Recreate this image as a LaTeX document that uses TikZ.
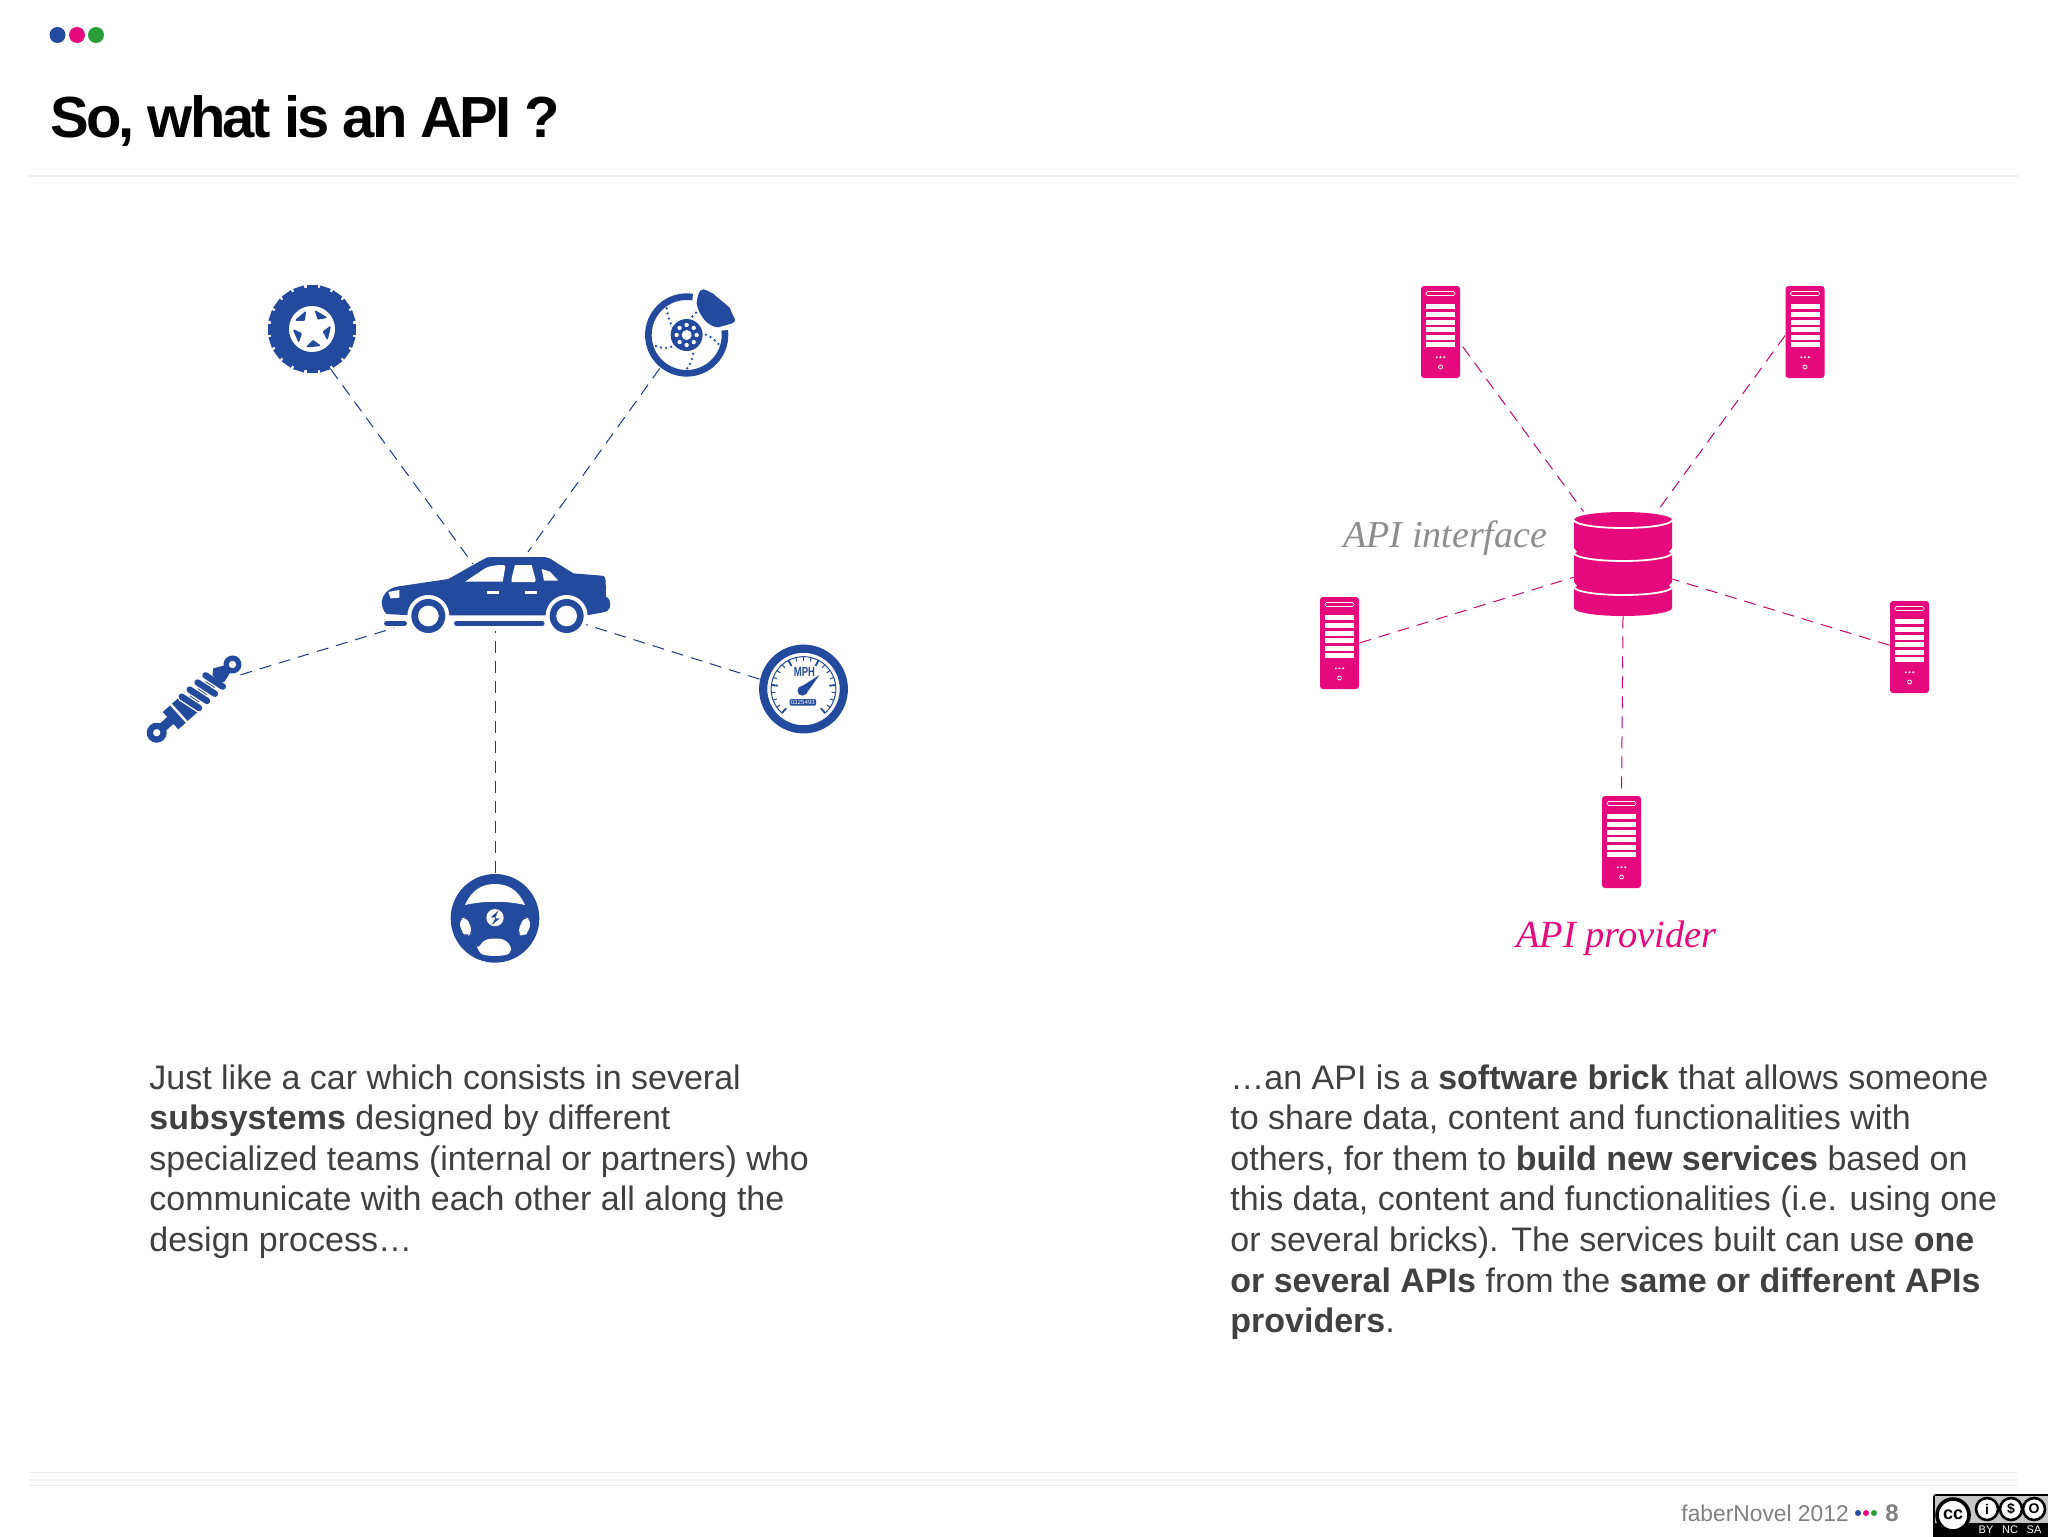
\documentclass[tikz,border=0pt]{standalone}
\usepackage{fontspec}
\setmainfont{Liberation Sans}
\newfontfamily\labelfont{Liberation Serif}
\newfontfamily\titlefont[LetterSpace=-5.1]{Liberation Sans}
\usetikzlibrary{calc}
\definecolor{carblue}{HTML}{234A9C}
\definecolor{apipink}{HTML}{E6097D}
\definecolor{dotgreen}{HTML}{2A9D3A}
\definecolor{bodygray}{HTML}{404040}
\definecolor{softgray}{HTML}{808080}
\definecolor{rulegray}{HTML}{EDEDED}
\tikzset{
  spot/.style={circle, inner sep=0pt},
  carlink/.style={draw=carblue!80!black, line width=0.5pt, dash pattern=on 6pt off 4pt},
  apilink/.style={draw=apipink!85!black, line width=0.5pt, dash pattern=on 6pt off 4pt},
  bodytext/.style={anchor=north west, inner sep=0pt, align=left, text=bodygray,
    font=\fontsize{17}{20.3}\selectfont},
  serverbox/.style={rectangle, fill=apipink, rounded corners=1.5pt, minimum width=19.5pt, minimum height=46pt, inner sep=0pt},
  serverface/.pic={
    \draw[white, line width=0.3pt, rounded corners=0.8pt] (-14.5,-40.5) rectangle (14.5,-36.5);
    \foreach \y in {-27.7,-20,-12.3,-4.7,2.7,10}
      \fill[white] (-14.5,\y) rectangle (14.5,\y+4.8);
    \foreach \x in {-3.7,0,3.7}
      \fill[white] (\x,25.3) circle (1.1);
    \draw[white, line width=0.4pt] (0,35) circle (2);
  },
  ccring/.style={circle, draw=black, line width=1.3pt, fill=white, inner sep=0pt, text=black}
}
\begin{document}
\begin{tikzpicture}[x=0.5pt,y=-0.5pt]
\useasboundingbox (0,0) rectangle (2048,1536);
\fill[white] (0,0) rectangle (2048,1536);
% Header
\fill[carblue] (57.5,35) circle (8);
\fill[apipink] (77,35) circle (8);
\fill[dotgreen] (96,35) circle (8);
\node (title) at (50,137) [anchor=base west, inner sep=0pt, font=\titlefont\fontsize{29}{30}\selectfont\bfseries] {So, what is an API ?};
\draw[rulegray, line width=0.6pt] (29,176) -- (2018,176);

% Car and its subsystems
\node (tire) at (312,329) [spot, minimum size=44pt] {};
\node (brake) at (687,336) [spot, minimum size=42pt] {};
\node (shock) at (195,700) [spot, minimum size=51.5pt] {};
\node (gauge) at (803,690) [spot, minimum size=44.5pt] {};
\node (wheel) at (495,918) [spot, minimum size=45pt] {};
\coordinate (carA) at (473,564);
\coordinate (carB) at (528,552);
\coordinate (carC) at (394,628);
\coordinate (carD) at (584,624);
\coordinate (carE) at (495,631);
\draw[carlink] (tire.-65) -- (carA);
\draw[carlink] (brake.-130) -- (carB);
\draw[carlink] (shock.29) -- (carC);
\draw[carlink] (gauge.166) -- (carD);
\draw[carlink] (wheel.north) -- (carE);

% Car
\begin{scope}[shift={(360,530)},scale=0.3333]
\fill[carblue] (65,215) .. controls (68,195) and (80,178) .. (110,170) -- (265,147)
  -- (370,88) .. controls (378,82) and (385,81) .. (395,81) -- (545,81)
  .. controls (560,81) and (570,84) .. (580,92) -- (640,130) -- (725,137)
  .. controls (735,138) and (737,145) .. (737,152) -- (738,200)
  .. controls (748,204) and (752,215) .. (750,232) .. controls (748,240) and (740,245) .. (730,247)
  -- (680,256) -- (150,256) -- (80,252) .. controls (70,245) and (66,230) .. (65,215) -- cycle;
\fill[white] (205,258) circle (63);
\fill[white] (620,258) circle (63);
\fill[white] (255,258) rectangle (570,270);
\foreach \x in {205,620} {
  \fill[carblue] (\x,258) circle (51);
  \fill[white] (\x,258) circle (31);
}
\fill[white] (315,155) -- (375,115) .. controls (390,107) and (410,105) .. (432,105) -- (436,110) -- (428,155) -- cycle;
\fill[white] (465,105) -- (515,105) -- (527,150) -- (524,156) -- (455,156) -- (455,145) -- cycle;
\fill[white] (545,117) -- (570,125) -- (595,152) -- (552,152) -- cycle;
\fill[white] (382,182) rectangle (418,191);
\fill[white] (494,182) rectangle (530,191);
\fill[white] (85,186) -- (118,180) -- (118,203) -- (92,205) -- cycle;
\draw[carblue, line width=2.6pt, line cap=round] (80,280) -- (133,280);
\draw[carblue, line width=2.6pt, line cap=round] (290,280) -- (546,280);
\end{scope}

% Tire
\begin{scope}[shift={(312,329)}]
\fill[carblue] (0,0) circle (41.5);
\foreach \a in {0,18,...,342}
  \fill[carblue, rotate=\a] (38,-5.5) rectangle (44,5.5);
\fill[white] (0,0) circle (23);
\foreach \a in {-59,-131,-203,-275,-347}
  \fill[carblue, line join=round, draw=carblue, line width=0.8pt] (\a-19:18) -- (\a+19:18) -- (\a:12) -- cycle;
\end{scope}

% Brake disc
\begin{scope}[shift={(630,270)},scale=0.3333]
\draw[carblue, line width=3.3pt] ($(170,195)+(-7:115)$) arc[start angle=-7, end angle=279, x radius=115, y radius=115];
\fill[carblue] (170,195) circle (48);
\fill[white] (170,195) circle (15);
\foreach \a in {0,45,...,315}
  \fill[white] ($(170,195)+(\a:30)$) circle (6.5);
\draw[carblue, line width=1.3pt, line cap=round, dash pattern=on 0pt off 2.6pt] (110,115) .. controls (115,145) and (120,160) .. (132,178);
\draw[carblue, line width=1.3pt, line cap=round, dash pattern=on 0pt off 2.6pt] (78,228) .. controls (100,238) and (120,235) .. (136,224);
\draw[carblue, line width=1.3pt, line cap=round, dash pattern=on 0pt off 2.6pt] (172,295) .. controls (185,275) and (190,260) .. (190,240);
\draw[carblue, line width=1.3pt, line cap=round, dash pattern=on 0pt off 2.6pt] (265,222) .. controls (250,205) and (235,195) .. (218,190);
\draw[carblue, line width=1.3pt, line cap=round, dash pattern=on 0pt off 2.6pt] (198,128) -- (185,142);
\fill[carblue] (200,100) .. controls (202,80) and (206,58) .. (220,58) .. controls (232,58) and (235,66) .. (248,70)
  -- (298,112) .. controls (306,125) and (305,135) .. (312,142) .. controls (320,152) and (312,160) .. (300,162)
  -- (265,172) .. controls (235,172) and (205,135) .. (200,100) -- cycle;
\end{scope}

% Shock absorber
\begin{scope}[shift={(156.7,732.7)},rotate=42,scale=0.3333]
\fill[carblue] (-2,-14) rectangle (70,14);
\fill[carblue] (55,-34) rectangle (142,36);
\fill[carblue] (142,-16) rectangle (262,16);
\fill[white] (85,-36) rectangle (92,38);
\foreach \x in {128,160,192,224} {
  \draw[white, line width=4.6pt, line cap=round] (\x,-30) -- (\x+16,30);
  \draw[carblue, line width=3.2pt, line cap=round] (\x,-30) -- (\x+16,30);
}
\fill[carblue] (240,-16) -- (255,-30) -- (290,-12) -- (290,12) -- (255,22) -- (240,16) -- cycle;
\fill[carblue] (0,0) circle (30);
\fill[white] (0,0) circle (11);
\fill[carblue] (306,0) circle (27);
\fill[white] (306,0) circle (11);
\end{scope}

% Speed gauge
\begin{scope}[shift={(803.5,689)},scale=0.3333]
\draw[carblue, line width=4.1pt] (0,0) circle (121);
\foreach \i in {0,...,20} {
  \pgfmathsetmacro{\b}{132+\i*13.8}
  \draw[carblue, line width=0.5pt] (\b:97) -- (\b:85);
}
\foreach \i in {0,4,...,20} {
  \pgfmathsetmacro{\b}{132+\i*13.8}
  \draw[carblue, line width=0.9pt] (\b:97) -- (\b:78);
}
\draw[carblue, line width=0.5pt] (132:97) arc[start angle=132, end angle=408, x radius=97, y radius=97];
\fill[carblue] (-10,-5) -- (48,-42) -- (8,14) -- cycle;
\fill[carblue] (-3,5) circle (15);
\fill[carblue] (-16,16) -- (10,14) -- (-3,0) -- cycle;
\node (mph) at (3,-50) [inner sep=0pt, text=carblue, font=\fontsize{6.6}{7}\selectfont\bfseries, xscale=0.72] {MPH};
\fill[carblue, rounded corners=1pt] (-42,30) rectangle (38,50);
\node (odo) at (-2,40) [inner sep=0pt, text=white, font=\fontsize{3.1}{4}\selectfont] {0325493};
\end{scope}

% Steering wheel
\begin{scope}[shift={(430,860)},scale=0.3333]
\fill[carblue] (195,175) circle (133);
\fill[white] (105,135) .. controls (125,90) and (155,72) .. (195,72) .. controls (235,72) and (265,90) .. (285,135)
  .. controls (230,122) and (160,122) .. (105,135) -- cycle;
\fill[white, rounded corners=3pt] (88,178) -- (110,170) -- (128,218) -- (110,230) -- (92,212) -- cycle;
\fill[white, rounded corners=3pt] (303,178) -- (282,170) -- (262,218) -- (280,232) -- (298,212) -- cycle;
\fill[white, rounded corners=3pt] (140,270) -- (165,236) -- (225,236) -- (250,270) .. controls (225,290) and (165,290) .. (140,270) -- cycle;
\fill[white] (195,173) circle (26);
\fill[carblue] (205,152) -- (182,172) -- (198,172) -- (185,195) -- (210,175) -- (195,175) -- cycle;
\end{scope}

% Database and servers
\node (db) at (1623,564) [rectangle, minimum width=49pt, minimum height=52pt, inner sep=0pt] {};
\fill[apipink] (1574,520) -- (1574,608) arc[start angle=180, end angle=0, x radius=49, y radius=8]
  -- (1672,520) arc[start angle=0, end angle=-180, x radius=49, y radius=8] -- cycle;
\foreach \y in {520,553,587} {
  \draw[white, line width=0.9pt] (1574,\y) arc[start angle=180, end angle=0, x radius=49, y radius=8];
}
\foreach \y in {553,587} {
  \fill[white] (1573,\y-6) -- (1577,\y-1) -- (1573,\y+1) -- cycle;
  \fill[white] (1673,\y-6) -- (1669,\y-1) -- (1673,\y+1) -- cycle;
}
\foreach \name/\x/\y in {srvA/1440.5/332, srvB/1805/332, srvC/1339.5/643, srvD/1909.5/647, srvE/1621.5/842} {
  \node (\name) at (\x,\y) [serverbox] {};
  \pic at (\name) {serverface};
}
\draw[apilink, shorten <=2pt] (srvA.-30) -- (db.127);
\draw[apilink] (srvB.-170) -- (db.57);
\draw[apilink] (srvC.0) -- (db.195);
\draw[apilink] (srvD.175) -- (db.-17);
\draw[apilink, shorten >=2.5pt] (db.south) -- (srvE.north);
\node (apiface) at (1343,547) [anchor=base west, inner sep=0pt, text=softgray!90, font=\labelfont\itshape\fontsize{19}{22}\selectfont] {API interface};
\node (apiprov) at (1516,947) [anchor=base west, inner sep=0pt, text=apipink, font=\labelfont\itshape\fontsize{19.2}{22}\selectfont] {API provider};

% Text blocks
\node (carnote) at (149,1064) [bodytext] {Just like a car which consists in several\\
\textbf{subsystems} designed by different\\
specialized teams (internal or partners) who\\
communicate with each other all along the\\
design process…};
\node (apinote) at (1230,1064) [bodytext] {…an API is a \textbf{software brick} that allows someone\\
to share data, content and functionalities with\\
others, for them to \textbf{build new services} based on\\
this data, content and functionalities (i.e. using one\\
or several bricks). The services built can use \textbf{one}\\
\textbf{or several APIs} from the \textbf{same or different APIs}\\
\textbf{providers}.};

% Footer
\draw[rulegray, line width=0.5pt] (29,1472.5) -- (2017,1472.5);
\draw[rulegray!70, line width=1pt] (29,1480) -- (2017,1480);
\draw[rulegray, line width=0.5pt] (29,1485.5) -- (2017,1485.5);
\node (brand) at (1681,1521) [anchor=base west, inner sep=0pt, text=softgray, font=\fontsize{11.4}{14}\selectfont] {faberNovel 2012};
\fill[carblue] (1858,1513) circle (3);
\fill[apipink] (1866,1513) circle (3);
\fill[dotgreen] (1874,1513) circle (3);
\node (pagenum) at (1885,1521) [anchor=base west, inner sep=0pt, text=softgray, font=\fontsize{12}{14}\selectfont\bfseries] {8};

% Licence badge
\fill[black, rounded corners=1.5pt] (1933,1494) rectangle (2052,1540);
\fill[gray!45] (1935,1496) rectangle (2048,1523);
\node (ccbig) at (1953,1515) [ccring, line width=1.8pt, minimum size=16pt, font=\fontsize{9}{10}\selectfont\bfseries] {cc};
\node (ccby) at (1987,1509) [ccring, minimum size=11pt, font=\fontsize{7}{8}\selectfont\bfseries] {i};
\node (ccnc) at (2011,1509) [ccring, minimum size=11pt, font=\fontsize{7}{8}\selectfont\bfseries] {\$};
\node (ccsa) at (2034,1509) [ccring, minimum size=11pt, font=\fontsize{7}{8}\selectfont\bfseries] {O};
\node (byword) at (1986,1530) [inner sep=0pt, text=white, font=\fontsize{5.5}{6}\selectfont] {BY};
\node (ncword) at (2010,1530) [inner sep=0pt, text=white, font=\fontsize{5.5}{6}\selectfont] {NC};
\node (saword) at (2034,1530) [inner sep=0pt, text=white, font=\fontsize{5.5}{6}\selectfont] {SA};
\end{tikzpicture}
\end{document}
